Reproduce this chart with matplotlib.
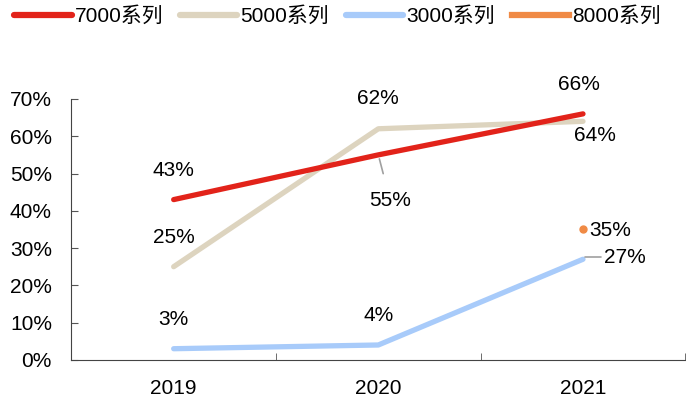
import matplotlib.pyplot as plt
from matplotlib.ticker import PercentFormatter

plt.rcParams['font.family'] = ['Liberation Sans', 'Noto Sans CJK SC', 'DejaVu Sans']

years = ['2019', '2020', '2021']
s7000 = [0.43, 0.55, 0.66]
s5000 = [0.25, 0.62, 0.64]
s3000 = [0.03, 0.04, 0.27]
s8000 = [0.35]

names = ['7000系列', '5000系列', '3000系列', '8000系列']
colors = ['#E2231A', '#DDD4BF', '#A8CBFA', '#F08A45']

fig = plt.figure(figsize=(6.86, 3.99), dpi=100)
ax = fig.add_axes([0.104, 0.098, 0.895, 0.654])

x = list(range(len(years)))
ax.plot(x, s7000, color=colors[0], lw=3.8, solid_capstyle='round', label=names[0], zorder=3)
ax.plot(x, s5000, color=colors[1], lw=3.8, solid_capstyle='round', label=names[1], zorder=2)
ax.plot(x, s3000, color=colors[2], lw=3.8, solid_capstyle='round', label=names[2], zorder=2)
ax.plot([2], s8000, color=colors[3], lw=3.8, marker='o', markersize=5, label=names[3], zorder=4)

ax.set_xlim(-0.5, 2.5)
ax.set_ylim(0, 0.7)
ax.set_yticks([i / 10 for i in range(8)])
ax.yaxis.set_major_formatter(PercentFormatter(1.0, decimals=0))
ax.set_xticks(x)
ax.set_xticklabels(years)
ax.set_xticks([-0.5, 0.5, 1.5, 2.5], minor=True)
ax.tick_params(axis='x', which='major', length=0, pad=14, labelsize=15)
ax.tick_params(axis='x', which='minor', direction='in', length=5, color='#555555')
ax.tick_params(axis='y', direction='in', length=5, color='#555555', labelsize=15, pad=14)
for side in ['top', 'right']:
    ax.spines[side].set_visible(False)
for side in ['left', 'bottom']:
    ax.spines[side].set_color('#444444')

fs = 15
pct = lambda v: f'{v * 100:.0f}%'


def label(v, xi, dx, dy, ha='center', leader=None):
    kw = dict(xytext=(dx, dy), textcoords='offset points', ha=ha, va='center', fontsize=fs)
    if leader is not None:
        kw['arrowprops'] = leader
    ax.annotate(pct(v), (xi, v), **kw)


# 7000系列
label(s7000[0], 0, 0, 21)
label(s7000[1], 1, 8.6, -33,
      leader=dict(arrowstyle='-', color='#A0A0A0', lw=1.2, shrinkA=11, shrinkB=3))
label(s7000[2], 2, -3, 21)

# 5000系列
label(s5000[0], 0, 0, 21)
label(s5000[1], 1, 0, 21.5)
label(s5000[2], 2, 8.6, -10)

# 3000系列
label(s3000[0], 0, 0, 21)
label(s3000[1], 1, 0, 21.5)
label(s3000[2], 2, 30, 1.4,
      leader=dict(arrowstyle='-', color='#A0A0A0', lw=1.2, shrinkA=16, shrinkB=2,
                  connectionstyle='angle,angleA=0,angleB=60,rad=0'))

# 8000系列
label(s8000[0], 2, 4.3, -1, ha='left')

leg = fig.legend(loc='upper left', bbox_to_anchor=(0.012, 1.0), ncol=4, frameon=False,
                 fontsize=15, handlelength=2.75, handletextpad=0.15, columnspacing=0.8,
                 borderaxespad=0.1, borderpad=0.2)
for h in leg.legend_handles:
    h.set_linewidth(4.5)
    h.set_marker('')

fig.savefig('out.png', dpi=100)
